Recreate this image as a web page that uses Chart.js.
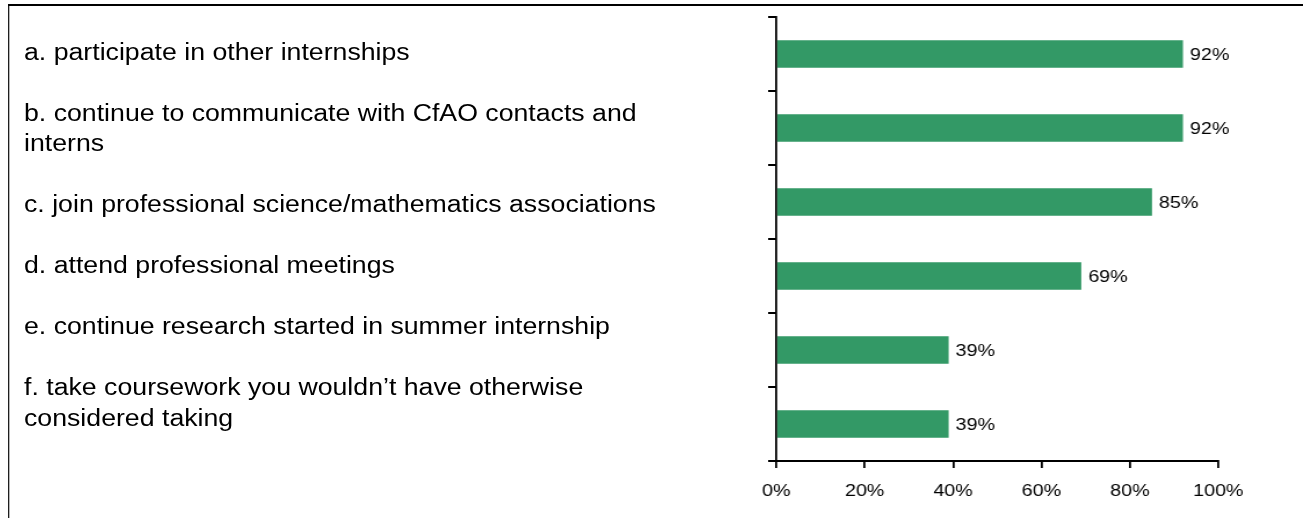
<!DOCTYPE html>
<html>
<head>
<meta charset="utf-8">
<script src="https://cdn.jsdelivr.net/npm/chart.js@4.4.0/dist/chart.umd.min.js"></script>
<style>
  html, body { margin: 0; padding: 0; background: #fff; overflow: hidden; }
  #stage { position: absolute; left: 0; top: 0; width: 1123px; height: 518px;
           transform: scaleX(1.1603); transform-origin: 0 0; }
  #frame { position: absolute; left: 7.2px; top: 4px; right: -10px; bottom: -10px;
           border-top: 2px solid #000; border-left: 1.8px solid #000; }
  #labels { position: absolute; left: 20.7px; top: 36.8px; font-family: Arial, "Liberation Sans", sans-serif;
            font-size: 23px; line-height: 30.5px; color: #000; white-space: pre; }
  canvas { position: absolute; left: 0; top: 0; }
</style>
</head>
<body>
<div id="stage">
  <div id="frame"></div>
  <div id="labels"></div>
  <canvas id="c" width="1123" height="518"></canvas>
</div>
<script>
const categories = [
  ['a. participate in other internships'],
  ['b. continue to communicate with CfAO contacts and', 'interns'],
  ['c. join professional science/mathematics associations'],
  ['d. attend professional meetings'],
  ['e. continue research started in summer internship'],
  ['f. take coursework you wouldn\u2019t have otherwise', 'considered taking']
];
const values = [92, 92, 85, 69, 39, 39];
const tickValues = [0, 20, 40, 60, 80, 100];
const barColor = '#339966';

// left-hand statement list (text box)
const lines = [];
categories.forEach((c, i) => { c.forEach(l => lines.push(l)); if (i < categories.length - 1) lines.push(''); });
document.getElementById('labels').textContent = lines.join('\n');

const valueLabels = {
  id: 'valueLabels',
  afterDatasetsDraw(chart) {
    const ctx = chart.ctx;
    const meta = chart.getDatasetMeta(0);
    ctx.save();
    ctx.font = '17px Arial, "Liberation Sans", sans-serif';
    ctx.fillStyle = '#000';
    ctx.textAlign = 'left';
    ctx.textBaseline = 'middle';
    meta.data.forEach((bar, i) => {
      ctx.fillText(values[i] + '%', bar.x + 6, bar.y + 1);
    });
    ctx.restore();
  }
};

new Chart(document.getElementById('c'), {
  type: 'bar',
  data: {
    labels: categories,
    datasets: [{
      data: values,
      backgroundColor: barColor,
      borderWidth: 0,
      categoryPercentage: 1,
      barPercentage: 0.369
    }]
  },
  options: {
    indexAxis: 'y',
    responsive: false,
    animation: false,
    events: [],
    layout: { padding: { top: 17, right: 73, left: 0, bottom: 0 } },
    plugins: { legend: { display: false }, tooltip: { enabled: false }, title: { display: false } },
    scales: {
      y: {
        afterFit(s) { s.width = 669; },
        ticks: { display: false },
        grid: { drawOnChartArea: false, drawTicks: true, tickLength: 7, color: '#000', lineWidth: 2, offset: true },
        border: { display: true, color: '#000', width: 1.8 }
      },
      x: {
        min: 0, max: 100,
        afterFit(s) { s.height = 57; },
        afterBuildTicks(s) { s.ticks = tickValues.map(v => ({ value: v })); },
        ticks: {
          callback: v => v + '%',
          color: '#000',
          padding: 13,
          maxRotation: 0,
          font: { family: 'Arial, "Liberation Sans", sans-serif', size: 17 }
        },
        grid: { drawOnChartArea: false, drawTicks: true, tickLength: 7, color: '#000', lineWidth: 1.8 },
        border: { display: true, color: '#000', width: 2 }
      }
    }
  },
  plugins: [valueLabels]
});
</script>
</body>
</html>
